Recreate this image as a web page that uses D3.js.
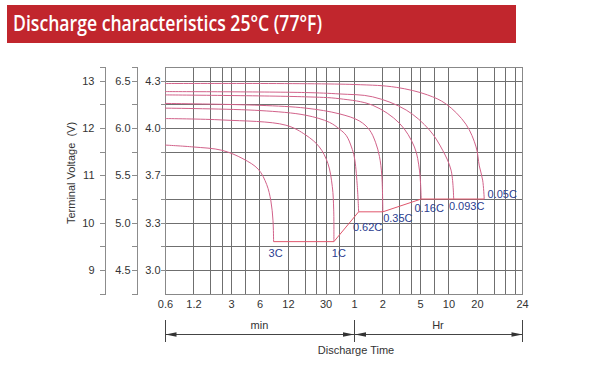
<!DOCTYPE html>
<html><head><meta charset="utf-8">
<script src="https://cdn.jsdelivr.net/npm/d3@7"></script>
<style>
html,body{margin:0;padding:0;background:#fff;}
svg{display:block;}
</style></head>
<body>
<svg id="chart" width="592" height="366"></svg>
<script>
// ---------- DATA ----------
const titleText = "Discharge characteristics 25°C (77°F)";
// time in hours, voltage on the 12 V scale
const curve3C   = [[0.01,11.64],[0.02,11.60],[0.04,11.53],[0.067,11.35],[0.097,11.13],[0.119,10.81],[0.132,10.46],[0.139,10.04],[0.141,9.6]];
const curve1C   = [[0.01,12.20],[0.041,12.17],[0.19,12.06],[0.31,11.85],[0.43,11.60],[0.53,11.25],[0.59,10.76],[0.61,10.27],[0.613,9.6]];
const curve062C = [[0.01,12.42],[0.1,12.37],[0.31,12.27],[0.55,12.12],[0.7,11.98],[0.83,11.84],[0.94,11.6],[1.01,11.38],[1.08,10.82],[1.12,10.23]];
const curve035C = [[0.01,12.52],[0.1,12.48],[0.31,12.42],[0.7,12.30],[1.14,12.15],[1.46,11.96],[1.69,11.70],[1.86,11.40],[1.97,11.0],[2.02,10.23]];
const curve016C = [[0.01,12.70],[0.3,12.66],[0.7,12.62],[1.58,12.48],[3.03,12.10],[4.36,11.60],[4.93,11.11],[5.14,10.5]];
const curve0093C= [[0.01,12.77],[0.3,12.75],[0.7,12.72],[1.57,12.66],[3.57,12.38],[6.28,11.96],[8.68,11.53],[10.65,11.11],[11.35,10.5]];
const curve005C = [[0.01,12.94],[1,12.92],[2.8,12.86],[6.0,12.70],[9.4,12.51],[15.3,12.08],[19.6,11.6],[21.2,11.2],[23,10.9],[23.9,10.5]];
const rateNames = ["3C","1C","0.62C","0.35C","0.16C","0.093C","0.05C"];
const rateCurves = [curve3C, curve1C, curve062C, curve035C, curve016C, curve0093C, curve005C];

const gridHours = [0.01,0.02,0.03,0.04,0.05,0.07,0.1,0.2,0.3,0.4,0.5,0.7,1,2,3,4,5,7,10,20,30,40,50,60];
const xTickHours = [0.01,0.02,0.05,0.1,0.2,0.5,1,2,5,10,20,60];
const xTickLabels = ["0.6","1.2","3","6","12","30","1","2","5","10","20","24"];
const volt12Ticks = [9,10,11,12,13];
const volt6Labels = ["4.5","5.0","5.5","6.0","6.5"];
const cellLabels = ["3.0","3.3","3.7","4.0","4.3"];
const halfVoltTicks = [9.5,10.5,11.5,12.5];
const gridVolts = [9,9.5,10,10.5,11,11.5,12,12.5,13];

// ---------- LAYOUT ----------
const svg = d3.select("#chart");
const L = 165, R = 522, T = 66.5, B = 293.7;
const x = d3.scaleLog().domain([0.01, 60]).range([L, R]);
const y = d3.scaleLinear().domain([8.5, 13.3]).range([B, T]);
const px = v => Math.round(v) + 0.5;
const labelNudge = {"3C":[2,15],"1C":[5,15],"0.62C":[9,19],"0.35C":[15,10],"0.16C":[8,13],"0.093C":[13,11],"0.05C":[18,-1]};

// title bar
svg.append("rect").attr("x",7).attr("y",5).attr("width",509).attr("height",38).attr("fill","#c1262d");
svg.append("text").attr("x",13).attr("y",31)
  .attr("font-family","'Open Sans', Lato, sans-serif").attr("font-weight",600).attr("font-size",22)
  .attr("fill","#fff").attr("textLength",309).attr("lengthAdjust","spacingAndGlyphs").text(titleText);

const font = "'Liberation Sans', Arial, sans-serif";
const gridColor = "#6f6f6f";

// grid
const g = svg.append("g");
g.selectAll("line.v").data(gridHours).join("line")
  .attr("x1",d=>px(x(d))).attr("x2",d=>px(x(d))).attr("y1",px(T)).attr("y2",px(B))
  .attr("stroke",gridColor).attr("stroke-width",1);
g.selectAll("line.h").data(gridVolts).join("line")
  .attr("x1",px(L)).attr("x2",px(R)).attr("y1",d=>px(y(d))).attr("y2",d=>px(y(d)))
  .attr("stroke",gridColor).attr("stroke-width",1);
g.append("rect").attr("x",px(L)).attr("y",px(T)).attr("width",px(R)-px(L)).attr("height",px(B)-px(T))
  .attr("fill","none").attr("stroke","#888");

// left axes
function leftAxis(xpos, labels, pad) {
  const ax = svg.append("g").attr("transform",`translate(${xpos},0)`);
  ax.call(d3.axisLeft(y).tickValues(volt12Ticks).tickSize(5).tickSizeOuter(5).tickPadding(pad)
      .tickFormat((d,i)=>labels[i]));
  ax.append("g").call(d3.axisLeft(y).tickValues(halfVoltTicks).tickSize(5).tickFormat("")).select(".domain").remove();
  ax.selectAll("path,line").attr("stroke","#8c8c8c").attr("shape-rendering","crispEdges");
  ax.selectAll("text").attr("font-family",font).attr("font-size",11).attr("fill","#333");
  return ax;
}
leftAxis(104.5, volt12Ticks.map(String), 5);
leftAxis(136.5, volt6Labels, 1);
const a3 = leftAxis(165.5, cellLabels, 0);
a3.select(".domain").remove();

// y title
svg.append("text").attr("transform","translate(75,173) rotate(-90)").attr("text-anchor","middle")
  .attr("font-family",font).attr("font-size",11).attr("fill","#333").attr("xml:space","preserve").text("Terminal Voltage  (V)");

// x axis labels
const xa = svg.append("g").attr("transform",`translate(0,${B})`)
  .call(d3.axisBottom(x).tickValues(xTickHours).tickSize(0).tickPadding(7).tickFormat((d,i)=>xTickLabels[i]));
xa.select(".domain").remove();
xa.selectAll("text").attr("font-family",font).attr("font-size",11).attr("fill","#333");

// curves
const line = d3.line().x(d=>x(d[0])).y(d=>y(d[1])).curve(d3.curveCatmullRom.alpha(0.5));
svg.append("g").selectAll("path").data(rateCurves).join("path")
  .attr("d",line).attr("fill","none").attr("stroke","#d2628a").attr("stroke-width",1);

// end-voltage path joining curve ends
const ends = rateCurves.map(c=>c[c.length-1]);
svg.append("path").attr("d",d3.line().x(d=>x(d[0])).y(d=>y(d[1]))(ends))
  .attr("fill","none").attr("stroke","#e0566c").attr("stroke-width",1);

// rate labels
svg.append("g").selectAll("text").data(rateNames).join("text")
  .attr("x",(d,i)=>x(ends[i][0])+labelNudge[d][0]).attr("y",(d,i)=>y(ends[i][1])+labelNudge[d][1])
  .attr("text-anchor","middle").attr("font-family",font).attr("font-size",11).attr("fill","#2b3d8f").text(d=>d);

// dimension lines
const dimY = 334.5;
const dm = svg.append("g").attr("stroke","#444").attr("fill","#333");
[0.01,1,60].forEach(h=>{
  dm.append("line").attr("x1",px(x(h))).attr("x2",px(x(h))).attr("y1",320).attr("y2",342);
});
dm.append("line").attr("x1",x(0.01)).attr("x2",x(60)).attr("y1",dimY).attr("y2",dimY);
function arrow(xt, dir){
  dm.append("path").attr("stroke","none")
    .attr("d",`M${xt},${dimY}L${xt+dir*11},${dimY-2.2}L${xt+dir*11},${dimY+2.2}Z`);
}
arrow(px(x(0.01)),1); arrow(px(x(1))-0.5,-1); arrow(px(x(1))+0.5,1); arrow(px(x(60)),-1);
svg.append("text").attr("x",(x(0.01)+x(1))/2).attr("y",329).attr("text-anchor","middle")
  .attr("font-family",font).attr("font-size",11).attr("fill","#333").text("min");
svg.append("text").attr("x",(x(1)+x(60))/2).attr("y",329).attr("text-anchor","middle")
  .attr("font-family",font).attr("font-size",11).attr("fill","#333").text("Hr");
svg.append("text").attr("x",356).attr("y",354).attr("text-anchor","middle")
  .attr("font-family",font).attr("font-size",11).attr("fill","#333").text("Discharge Time");
</script>
</body></html>
